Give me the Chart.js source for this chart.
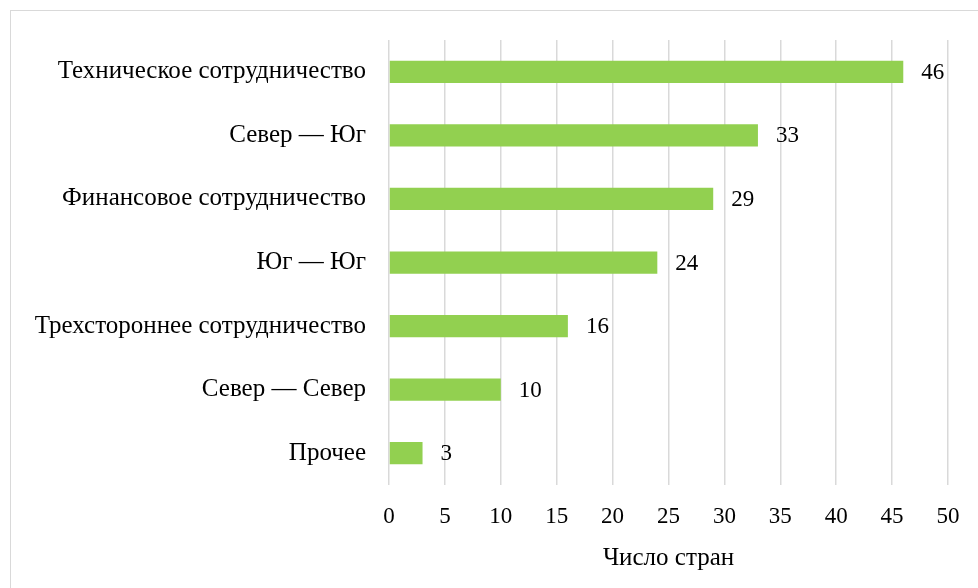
<!DOCTYPE html>
<html><head><meta charset="utf-8">
<script src="https://cdn.jsdelivr.net/npm/chart.js@4/dist/chart.umd.min.js"></script>
<style>html,body{margin:0;padding:0;background:#fff}#wrap{position:absolute;left:0;top:0;width:978px;height:588px}</style>
</head><body><div id="wrap"><canvas id="c" width="978" height="588"></canvas></div>
<script>
const categories = ["Техническое сотрудничество","Север — Юг","Финансовое сотрудничество","Юг — Юг","Трехстороннее сотрудничество","Север — Север","Прочее"];
const values = [46,33,29,24,16,10,3];
const xTicks = [0,5,10,15,20,25,30,35,40,45,50];
const xTitle = "Число стран";

const FONT = "'Liberation Serif','Times New Roman',serif";

const borderPlugin = {
  id:'frame',
  beforeDraw(chart){
    const ctx = chart.ctx;
    ctx.save();
    ctx.fillStyle='#fff';
    ctx.fillRect(0,0,chart.width,chart.height);
    ctx.strokeStyle='#d9d9d9';
    ctx.lineWidth=1;
    ctx.strokeRect(10.5,10.5,chart.width+20,chart.height+20);
    ctx.restore();
  }
};
const labelPlugin = {
  id:'vals',
  afterDatasetsDraw(chart){
    const ctx = chart.ctx;
    const meta = chart.getDatasetMeta(0);
    ctx.save();
    ctx.font = "23px " + FONT;
    ctx.fillStyle = '#000';
    ctx.textBaseline = 'middle';
    ctx.textAlign = 'left';
    meta.data.forEach((bar,i)=>{
      ctx.fillText(String(values[i]), bar.x + 18, bar.y + 1);
    });
    ctx.restore();
  }
};

new Chart(document.getElementById('c'),{
  type:'bar',
  data:{labels:categories,datasets:[{data:values,backgroundColor:'#92d050',barPercentage:0.35,categoryPercentage:1}]},
  options:{
    indexAxis:'y',
    responsive:false,
    animation:false,
    layout:{padding:{left:0,right:30,top:40,bottom:15}},
    plugins:{legend:{display:false},tooltip:{enabled:false}},
    scales:{
      x:{
        min:0,max:50,
        afterBuildTicks(s){ s.ticks = xTicks.map(v=>({value:v})); },
        afterFit(s){ s.height = 88; },
        grid:{color:'#d9d9d9',drawTicks:false,lineWidth:1.5},
        border:{display:false},
        ticks:{color:'#000',font:{family:FONT,size:23},padding:18},
        title:{display:true,text:xTitle,color:'#000',font:{family:FONT,size:25},padding:{top:0,bottom:0}}
      },
      y:{
        grid:{display:false,drawTicks:false},
        border:{display:false},
        afterFit(s){ s.width = 389; },
        ticks:{color:'#000',font:{family:FONT,size:25},padding:23}
      }
    }
  },
  plugins:[borderPlugin,labelPlugin]
});
</script></body></html>
